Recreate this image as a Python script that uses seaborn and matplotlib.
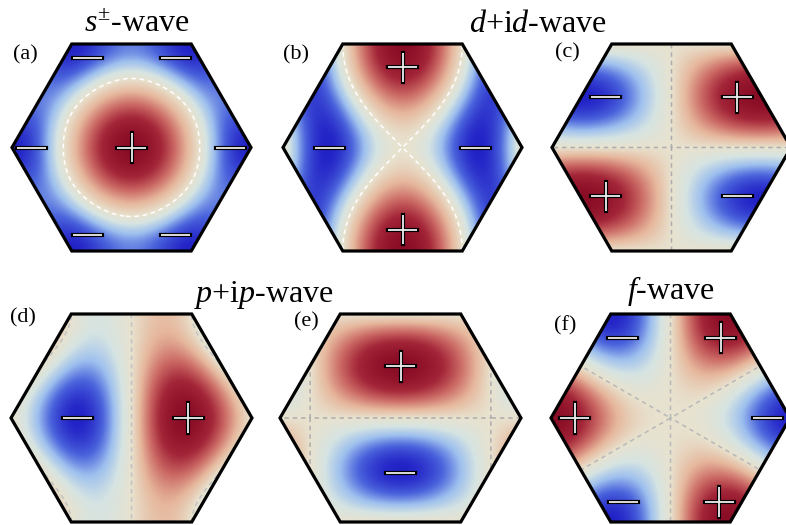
import numpy as np
import matplotlib
matplotlib.use("Agg")
import matplotlib.pyplot as plt
from matplotlib.patches import Polygon
from matplotlib.colors import TwoSlopeNorm
import seaborn as sns

sns.set_style("white")
plt.rcParams["font.family"] = ["Liberation Serif", "DejaVu Serif"]
plt.rcParams["text.color"] = "black"
plt.rcParams["lines.scale_dashes"] = False
plt.rcParams["mathtext.fontset"] = "custom"
plt.rcParams["mathtext.rm"] = "Liberation Serif"
plt.rcParams["mathtext.it"] = "Liberation Serif:italic"

# Brillouin zone of the triangular lattice: flat-top hexagon
KMAX = 4 * np.pi / 3                 # K point on the kx axis
KYMAX = 2 * np.pi / np.sqrt(3)       # M point on the ky axis

panel_labels = ["(a)", "(b)", "(c)", "(d)", "(e)", "(f)"]
panel_kinds = ["s", "dx2", "dxy", "px", "py", "f"]
titles = [r"$s^{\pm}$-wave", r"$d$+i$d$-wave", r"$p$+i$p$-wave", r"$f$-wave"]

# sign markers: (kx / KMAX, ky / KMAX, sign)
signs = {
    "s":   [(0.0, 0.0, 1), (-0.84, 0.0, -1), (0.83, 0.0, -1),
            (-0.37, 0.75, -1), (0.37, 0.75, -1), (-0.37, -0.73, -1), (0.37, -0.73, -1)],
    "dx2": [(0.0, 0.67, 1), (0.0, -0.69, 1), (-0.61, 0.0, -1), (0.61, 0.0, -1)],
    "dxy": [(-0.55, 0.42, -1), (0.55, 0.42, 1), (-0.55, -0.41, 1), (0.55, -0.41, -1)],
    "px":  [(-0.45, 0.0, -1), (0.47, 0.0, 1)],
    "py":  [(0.0, 0.43, 1), (0.0, -0.46, -1)],
    "f":   [(-0.40, 0.67, -1), (0.42, 0.67, 1), (-0.80, 0.0, 1), (0.81, 0.0, -1),
            (-0.39, -0.70, -1), (0.41, -0.70, 1)],
}

# colour of the dashed nodal lines, per panel
node_colors = ["white", "white", "0.68", "0.76", "0.68", "0.72"]

# axes boxes in pixels: left, top, width, height
boxes = [(12, 44, 239, 207), (283, 44, 239, 207), (552, 44, 239, 207),
         (11, 314, 241, 208), (280, 314, 241, 208), (551, 314, 239, 208)]

title_pos = [(137, 32), (538, 32), (264, 302), (671, 299)]
label_pos = [(25, 55), (296, 55), (567, 53), (23, 318), (306, 322), (565, 326)]


def form_factor(kind, kx, ky):
    a = np.sqrt(3) * ky / 2
    if kind == "s":
        return np.cos(kx) + 2 * np.cos(kx / 2) * np.cos(a)
    if kind == "dx2":
        return 2 * np.cos(kx) - 2 * np.cos(kx / 2) * np.cos(a)
    if kind == "dxy":
        return 2 * np.sqrt(3) * np.sin(kx / 2) * np.sin(a)
    if kind == "px":
        return 2 * np.sin(kx) + 2 * np.sin(kx / 2) * np.cos(a)
    if kind == "py":
        return 2 * np.sqrt(3) * np.cos(kx / 2) * np.sin(a)
    return np.sin(kx) - 2 * np.sin(kx / 2) * np.cos(a)


cmap = sns.blend_palette(["#2222c6", "#4a63dc", "#9ec0ee", "#d6e4e2", "#e8e2cf",
                          "#e6b79c", "#cc6b66", "#a32538", "#8a0d26"], as_cmap=True)

hex_verts = np.array([[KMAX, 0], [KMAX / 2, KYMAX], [-KMAX / 2, KYMAX],
                      [-KMAX, 0], [-KMAX / 2, -KYMAX], [KMAX / 2, -KYMAX]])

W, H = 786, 525
fig = plt.figure(figsize=(W / 100, H / 100), dpi=100)

n = 600
kx = np.linspace(-KMAX, KMAX, n)
ky = np.linspace(-KYMAX, KYMAX, int(n * 0.866))
KX, KY = np.meshgrid(kx, ky)
inside = (np.abs(KY) <= KYMAX) & (np.abs(KY) <= np.sqrt(3) * (KMAX - np.abs(KX)))

px_to_k = KMAX / 119.5
half = 14.5 * px_to_k
dash = [(0, (3.2, 2.8))]

for i, kind in enumerate(panel_kinds):
    l, t, w, h = boxes[i]
    ax = fig.add_axes([l / W, 1 - (t + h) / H, w / W, h / H])
    ax.set_xlim(-KMAX, KMAX)
    ax.set_ylim(-KYMAX, KYMAX)
    ax.axis("off")

    Z = form_factor(kind, KX, KY)
    zin = Z[inside]
    norm = TwoSlopeNorm(vcenter=0.0, vmin=zin.min(), vmax=zin.max())

    clip = Polygon(hex_verts, closed=True, transform=ax.transData)
    im = ax.imshow(Z, extent=(-KMAX, KMAX, -KYMAX, KYMAX), origin="lower",
                   cmap=cmap, norm=norm, interpolation="bilinear", aspect="auto")
    im.set_clip_path(clip)

    # nodal lines of the gap function
    cs = ax.contour(KX, KY, Z, levels=[0.0], colors=[node_colors[i]],
                    linewidths=1.1, linestyles=dash)
    cs.set_clip_path(Polygon(hex_verts, closed=True, transform=ax.transData))

    ax.add_patch(Polygon(hex_verts, closed=True, fill=False, edgecolor="black",
                         linewidth=2.3, joinstyle="miter", clip_on=False, zorder=8))

    for sx, sy, sg in signs[kind]:
        x0, y0 = sx * KMAX, sy * KMAX
        segs = [([x0 - half, x0 + half], [y0, y0])]
        if sg > 0:
            segs.append(([x0, x0], [y0 - half, y0 + half]))
        for xs, ys in segs:
            ax.plot(xs, ys, color="black", lw=3.0, solid_capstyle="projecting", zorder=6)
        for xs, ys in segs:
            ax.plot(xs, ys, color="#efefef", lw=1.3, solid_capstyle="butt", zorder=7)

for (x, y), s in zip(title_pos, titles):
    fig.text(x / W, 1 - y / H, s, ha="center", va="baseline", fontsize=23, color="black")

for (x, y), s in zip(label_pos, panel_labels):
    fig.text(x / W, 1 - y / H, s, ha="center", va="center", fontsize=16, color="black")

fig.savefig("out.png", dpi=100)
